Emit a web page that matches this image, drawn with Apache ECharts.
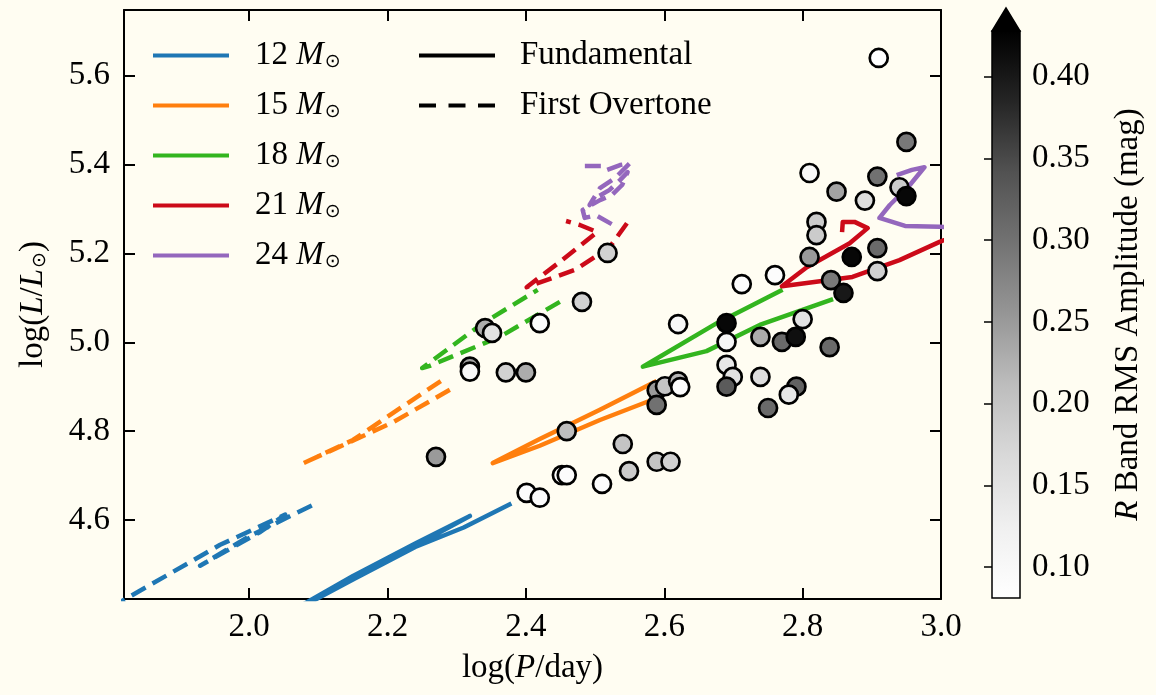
<!DOCTYPE html>
<html><head><meta charset="utf-8">
<script src="https://cdn.jsdelivr.net/npm/echarts@6/dist/echarts.min.js"></script>
<style>html,body{margin:0;padding:0;background:#fffdf2;} #c{width:1156px;height:695px;}</style>
</head><body><div id="c"></div>
<script>
// ---------- data ----------
const xTicks = [2.0, 2.2, 2.4, 2.6, 2.8, 3.0];
const yTicks = [4.6, 4.8, 5.0, 5.2, 5.4, 5.6];
const cbTicks = [0.10, 0.15, 0.20, 0.25, 0.30, 0.35, 0.40];
const xMin = 1.819, xMax = 3.0, yMin = 4.422, yMax = 5.748;
const cbMin = 0.081, cbMax = 0.428;

const masses = ['12', '15', '18', '21', '24'];

// Fundamental-mode tracks [logP, logL]
const fund12 = [[2.05,4.385],[2.15,4.474],[2.24,4.547],[2.319,4.609],[2.25,4.551],[2.15,4.468],[2.09,4.416],[2.15,4.466],[2.24,4.539],[2.31,4.583],[2.379,4.637]];
const fund15 = [[2.582,4.870],[2.507,4.825],[2.42,4.767],[2.352,4.728],[2.42,4.782],[2.507,4.848],[2.589,4.913]];
const fund18 = [[2.844,5.097],[2.738,5.039],[2.661,4.980],[2.569,4.945],[2.676,5.043],[2.771,5.118]];
const fund21 = [[3.027,5.244],[2.998,5.226],[2.940,5.185],[2.872,5.147],[2.770,5.126],[2.806,5.169],[2.868,5.223],[2.894,5.257],[2.875,5.271],[2.858,5.271],[2.857,5.248]];
const fund24 = [[3.027,5.257],[2.998,5.260],[2.948,5.262],[2.911,5.280],[2.926,5.309],[2.955,5.354],[2.976,5.394],[2.958,5.388],[2.936,5.376]];

// First-overtone tracks [logP, logL]
const ot12 = [[1.80,4.403],[1.958,4.544],[2.052,4.612],[2.016,4.573],[1.929,4.497],[2.001,4.564],[2.099,4.639]];
const ot15 = [[2.29,4.893],[2.208,4.820],[2.076,4.726],[2.15,4.780],[2.208,4.841],[2.283,4.919]];
const ot18 = [[2.449,5.091],[2.362,5.012],[2.261,4.947],[2.250,4.942],[2.338,5.043],[2.417,5.118]];
const ot21 = [[2.546,5.268],[2.521,5.214],[2.471,5.163],[2.401,5.124],[2.449,5.181],[2.503,5.248],[2.478,5.264],[2.458,5.273]];
const ot24 = [[2.524,5.266],[2.501,5.286],[2.485,5.280],[2.482,5.298],[2.507,5.320],[2.524,5.331],[2.539,5.354],[2.547,5.383],[2.536,5.365],[2.521,5.343],[2.503,5.327],[2.492,5.309],[2.507,5.347],[2.529,5.370],[2.550,5.403],[2.536,5.399],[2.517,5.388],[2.511,5.397],[2.481,5.397]];

// Observed stars
const logP = [2.910,2.950,2.810,2.908,2.849,2.890,2.940,2.950,2.820,2.820,2.908,2.810,2.871,2.760,2.908,2.841,2.859,2.712,2.481,2.518,2.420,2.690,2.620,2.800,2.739,2.770,2.790,2.839,2.690,2.690,2.699,2.690,2.739,2.791,2.780,2.750,2.589,2.601,2.620,2.623,2.589,2.459,2.540,2.549,2.589,2.609,2.452,2.459,2.510,2.401,2.420,2.270,2.319,2.319,2.371,2.400,2.341,2.351];
const logL = [5.640,5.451,5.381,5.373,5.339,5.319,5.349,5.329,5.271,5.241,5.212,5.192,5.192,5.151,5.160,5.140,5.111,5.131,5.091,5.201,5.043,5.043,5.041,5.052,5.012,5.001,5.012,4.989,5.001,4.949,4.922,4.900,4.922,4.900,4.882,4.852,4.892,4.901,4.912,4.899,4.859,4.800,4.771,4.710,4.731,4.731,4.701,4.701,4.681,4.661,4.650,4.742,4.945,4.934,4.932,4.932,5.032,5.021];
const amp  = [0.08,0.29,0.10,0.30,0.24,0.16,0.19,0.42,0.19,0.19,0.31,0.25,0.42,0.09,0.18,0.29,0.40,0.09,0.18,0.18,0.09,0.42,0.10,0.15,0.23,0.31,0.41,0.31,0.11,0.14,0.15,0.33,0.16,0.32,0.14,0.31,0.25,0.20,0.22,0.09,0.30,0.21,0.20,0.19,0.20,0.18,0.09,0.09,0.09,0.09,0.09,0.25,0.24,0.10,0.18,0.23,0.23,0.15];

// ---------- style ----------
const colors = ['#1f77b4', '#ff7f0e', '#33b51f', '#cc0a19', '#9467bd'];
const greys = ['#ffffff','#f0f0f0','#d9d9d9','#bdbdbd','#969696','#737373','#525252','#252525','#000000'];
const FONT = "'Liberation Serif', 'DejaVu Serif', serif";
const FS = 33;
const LW = 4.5;
const DASH = [16, 8];
const fundTracks = [fund12, fund15, fund18, fund21, fund24];
const otTracks = [ot12, ot15, ot18, ot21, ot24];

const series = [];
masses.forEach((m, i) => {
  series.push({
    name: m, type: 'line', data: fundTracks[i], symbol: 'none', showSymbol: false,
    clip: true, z: 2, xAxisIndex: 0, yAxisIndex: 0,
    lineStyle: { color: colors[i], width: LW, join: 'round' }, itemStyle: { color: colors[i] }
  });
  series.push({
    name: m, type: 'line', data: otTracks[i], symbol: 'none', showSymbol: false,
    clip: true, z: 2, xAxisIndex: 0, yAxisIndex: 0,
    lineStyle: { color: colors[i], width: LW, type: DASH, join: 'round' }, itemStyle: { color: colors[i] }
  });
});
series.push({ name: 'Fundamental', type: 'line', data: [], symbol: 'none',
  lineStyle: { color: '#000', width: 4 }, itemStyle: { color: '#000' } });
series.push({ name: 'First Overtone', type: 'line', data: [], symbol: 'none',
  lineStyle: { color: '#000', width: 4, type: DASH }, itemStyle: { color: '#000' } });
const scatterIndex = series.length;
series.push({
  type: 'scatter', xAxisIndex: 0, yAxisIndex: 0, z: 10,
  data: logP.map((x, i) => [x, logL[i], amp[i]]),
  symbol: 'circle', symbolSize: 18,
  itemStyle: { borderColor: '#000', borderWidth: 2.7, opacity: 1 }
});
// colour bar
const gradStops = greys.map((c, i) => ({ offset: i / (greys.length - 1), color: c }));
series.push({
  type: 'custom', xAxisIndex: 2, yAxisIndex: 2, silent: true, clip: false, z: 5,
  data: [[0, cbMin]],
  renderItem: (params, api) => {
    const p0 = api.coord([0, cbMin]);
    const p1 = api.coord([1, cbMax]);
    const x = p0[0], y = p1[1], w = p1[0] - p0[0], h = p0[1] - p1[1];
    return { type: 'group', children: [
      { type: 'rect', shape: { x, y, width: w, height: h },
        style: { fill: new echarts.graphic.LinearGradient(0, 1, 0, 0, gradStops), stroke: '#000', lineWidth: 1.5 } },
      { type: 'polygon', shape: { points: [[x, y], [x + w, y], [x + w / 2, y - 23]] },
        style: { fill: '#000', stroke: '#000', lineWidth: 1.5 } }
    ]};
  }
});

const axLine = { show: true, onZero: false, lineStyle: { color: '#000', width: 2 } };
const tick = (vals) => ({ show: true, inside: true, length: 11, lineStyle: { color: '#000', width: 2 }, customValues: vals });
const lblStyle = { fontSize: FS, fontFamily: FONT, color: '#000' };
const richBase = {
  i: { fontStyle: 'italic', fontSize: FS, fontFamily: FONT, color: '#000' },
  s: { fontSize: 19, fontFamily: "'DejaVu Sans'", color: '#000', padding: [14, 0, 0, 1] }
};
const dashIcon = 'path://M0,0H17V4H0Z M29.5,0H46.5V4H29.5Z M59,0H76V4H59Z';

const option = {
  backgroundColor: '#fffdf2',
  animation: false,
  textStyle: { fontFamily: FONT },
  grid: [
    { left: 124, right: 215, top: 10, bottom: 96, containLabel: false },
    { left: 992, width: 28, top: 31, bottom: 97, containLabel: false }
  ],
  xAxis: [
    { type: 'value', gridIndex: 0, position: 'bottom', min: xMin, max: xMax,
      axisLine: axLine, axisTick: tick(xTicks), splitLine: { show: false },
      axisLabel: Object.assign({ customValues: xTicks, formatter: v => v.toFixed(1), margin: 12 }, lblStyle),
      name: 'log({i|P}/day)', nameLocation: 'middle', nameGap: 53,
      nameTextStyle: Object.assign({ rich: richBase }, lblStyle) },
    { type: 'value', gridIndex: 0, position: 'top', min: xMin, max: xMax,
      axisLine: axLine, axisTick: tick(xTicks), axisLabel: { show: false }, splitLine: { show: false } },
    { type: 'value', gridIndex: 1, min: 0, max: 1, show: false }
  ],
  yAxis: [
    { type: 'value', gridIndex: 0, position: 'left', min: yMin, max: yMax,
      axisLine: axLine, axisTick: tick(yTicks), splitLine: { show: false },
      axisLabel: Object.assign({ customValues: yTicks, formatter: v => v.toFixed(1), margin: 14 }, lblStyle),
      name: 'log({i|L}/{i|L}{s|⊙})', nameLocation: 'middle', nameGap: 74, nameRotate: 90,
      nameTextStyle: Object.assign({ rich: richBase }, lblStyle) },
    { type: 'value', gridIndex: 0, position: 'right', min: yMin, max: yMax,
      axisLine: axLine, axisTick: tick(yTicks), axisLabel: { show: false }, splitLine: { show: false } },
    { type: 'value', gridIndex: 1, position: 'right', min: cbMin, max: cbMax,
      axisLine: { show: false }, splitLine: { show: false },
      axisTick: { show: true, inside: true, length: 8, lineStyle: { color: '#000', width: 1.5 }, customValues: cbTicks },
      axisLabel: Object.assign({ customValues: cbTicks, formatter: v => v.toFixed(2), margin: 12 }, lblStyle),
      name: '{i|R} Band RMS Amplitude (mag)', nameLocation: 'middle', nameRotate: 90, nameGap: 92,
      nameTextStyle: Object.assign({ rich: richBase }, lblStyle) }
  ],
  visualMap: {
    type: 'continuous', show: false, seriesIndex: scatterIndex, dimension: 2,
    min: cbMin, max: cbMax, inRange: { color: greys }
  },
  legend: [
    { data: masses.map(m => ({ name: m, icon: 'rect' })), orient: 'vertical', left: 153, top: 39, padding: 0,
      itemWidth: 76, itemHeight: 4, itemGap: 17, selectedMode: false,
      formatter: n => n + ' {i|M}{s|⊙}',
      textStyle: Object.assign({ padding: [0, 0, 0, 21], rich: richBase }, lblStyle) },
    { data: [{ name: 'Fundamental', icon: 'rect' }, { name: 'First Overtone', icon: dashIcon }],
      orient: 'vertical', left: 419, top: 39, padding: 0,
      itemWidth: 76, itemHeight: 4, itemGap: 17, selectedMode: false,
      textStyle: Object.assign({ padding: [0, 0, 0, 20] }, lblStyle) }
  ],
  series: series
};

const chart = echarts.init(document.getElementById('c'), null, { renderer: 'canvas' });
chart.setOption(option);
</script>
</body></html>
